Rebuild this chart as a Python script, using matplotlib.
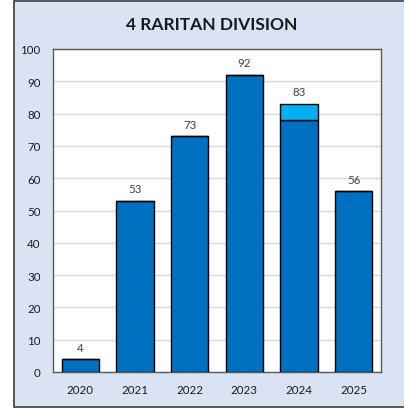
import numpy as np
import matplotlib
matplotlib.use("Agg")
import matplotlib.pyplot as plt
from matplotlib.patches import Rectangle

# data
years=["2020","2021","2022","2023","2024","2025"]
base=[4,53,73,92,78,56]
extra=[0,0,0,0,5,0]
totals=[4,53,73,92,83,56]

# style
plt.rcParams['font.family']=['Lato','DejaVu Sans']
dark="#0070C0";light="#00B0F0";bg="#DAE3F3"

fig=plt.figure(figsize=(4.04,4.10),dpi=100)
fig.patch.set_facecolor("white")
fig.patches.append(Rectangle((14/404,2/410),1.0,406/410,transform=fig.transFigure,
                             facecolor=bg,edgecolor="#404040",lw=1.2,zorder=0))

ax=fig.add_axes([53/404,1-373/410,328/404,323/410])
ax.set_zorder(2)
ax.set_facecolor("white")
x=np.arange(len(years))
ax.bar(x,base,width=0.68,color=dark,edgecolor="black",lw=1,zorder=3)
ax.bar(x,extra,bottom=base,width=0.68,color=light,edgecolor="black",lw=1,zorder=3)
for i0 in range(len(years)):
    ax.text(x[i0],totals[i0]+2.0,str(totals[i0]),ha='center',va='bottom',fontsize=8.3,color="#404040")

ax.set_xlim(-0.5,len(years)-0.5)
ax.set_ylim(0,100)
ax.set_yticks(range(0,101,10))
ax.set_xticks(x);ax.set_xticklabels(years)
ax.tick_params(length=0,labelsize=8.3,colors="#1a1a1a")
ax.tick_params(axis='y',pad=9)
ax.tick_params(axis='x',pad=9)
ax.grid(axis='y',color="#D9D9D9",lw=1,zorder=0)
for s in ax.spines.values():
    s.set_color("#595959");s.set_linewidth(1)

fig.text(212/404,1-25/410,"4 RARITAN DIVISION",ha='center',va='center',fontsize=12.5,fontweight='bold',color="#1a1a1a")

fig.savefig("out.png",dpi=100)
